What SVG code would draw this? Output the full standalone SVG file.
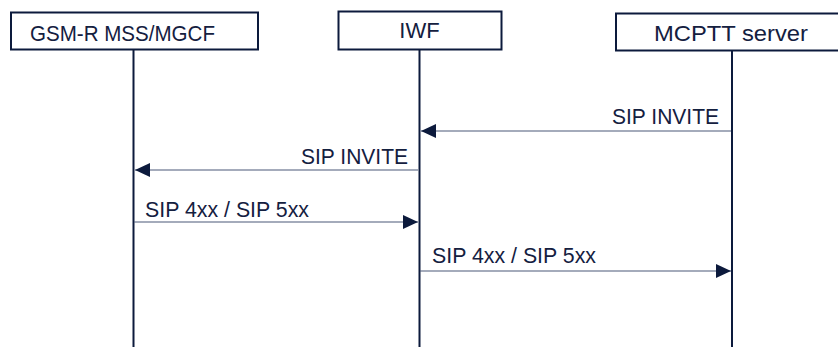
<svg xmlns="http://www.w3.org/2000/svg" width="838" height="347" viewBox="0 0 838 347">
<style>
.box{fill:#fff;stroke:#0c1a3c;stroke-width:2}
.life{stroke:#0c1a3c;stroke-width:2}
.msg{stroke:#4a5878;stroke-width:1.2;fill:none}
text{font-family:"Liberation Sans",Arial,sans-serif;fill:#14203f;font-size:22px}
.lbl{font-size:21.5px}
</style>
<defs>
<marker id="ah" markerWidth="16" markerHeight="14" refX="15" refY="7" orient="auto" markerUnits="userSpaceOnUse">
<path d="M0,0 L15,7 L0,14 Z" fill="#0c1a3c"/>
</marker>
</defs>
<rect width="838" height="347" fill="#fff"/>
<g id="node-gsm">
<line class="life" x1="133.5" y1="49" x2="133.5" y2="347"/>
<rect class="box" x="11" y="12.5" width="247" height="37"/>
<text x="30" y="40.5" textLength="185" lengthAdjust="spacingAndGlyphs">GSM-R MSS/MGCF</text>
</g>
<g id="node-iwf">
<line class="life" x1="419.5" y1="49" x2="419.5" y2="347"/>
<rect class="box" x="338.5" y="11.5" width="163" height="38"/>
<text x="419.5" y="38" text-anchor="middle">IWF</text>
</g>
<g id="node-mcptt">
<line class="life" x1="732" y1="50" x2="732" y2="347"/>
<rect class="box" x="616" y="13.5" width="232" height="37"/>
<text x="731" y="41" text-anchor="middle" textLength="154" lengthAdjust="spacingAndGlyphs">MCPTT server</text>
</g>
<g id="connectors">
<line class="msg" x1="731" y1="131" x2="421" y2="131" marker-end="url(#ah)"/>
<text class="lbl" x="719" y="124" text-anchor="end" textLength="107" lengthAdjust="spacingAndGlyphs">SIP INVITE</text>
<line class="msg" x1="418" y1="170" x2="135" y2="170" marker-end="url(#ah)"/>
<text class="lbl" x="408" y="164" text-anchor="end" textLength="107" lengthAdjust="spacingAndGlyphs">SIP INVITE</text>
<line class="msg" x1="134" y1="222" x2="418" y2="222" marker-end="url(#ah)"/>
<text class="lbl" x="145" y="217" textLength="164" lengthAdjust="spacingAndGlyphs">SIP 4xx / SIP 5xx</text>
<line class="msg" x1="420" y1="271" x2="731" y2="271" marker-end="url(#ah)"/>
<text class="lbl" x="432" y="263" textLength="164" lengthAdjust="spacingAndGlyphs">SIP 4xx / SIP 5xx</text>
</g>
</svg>
